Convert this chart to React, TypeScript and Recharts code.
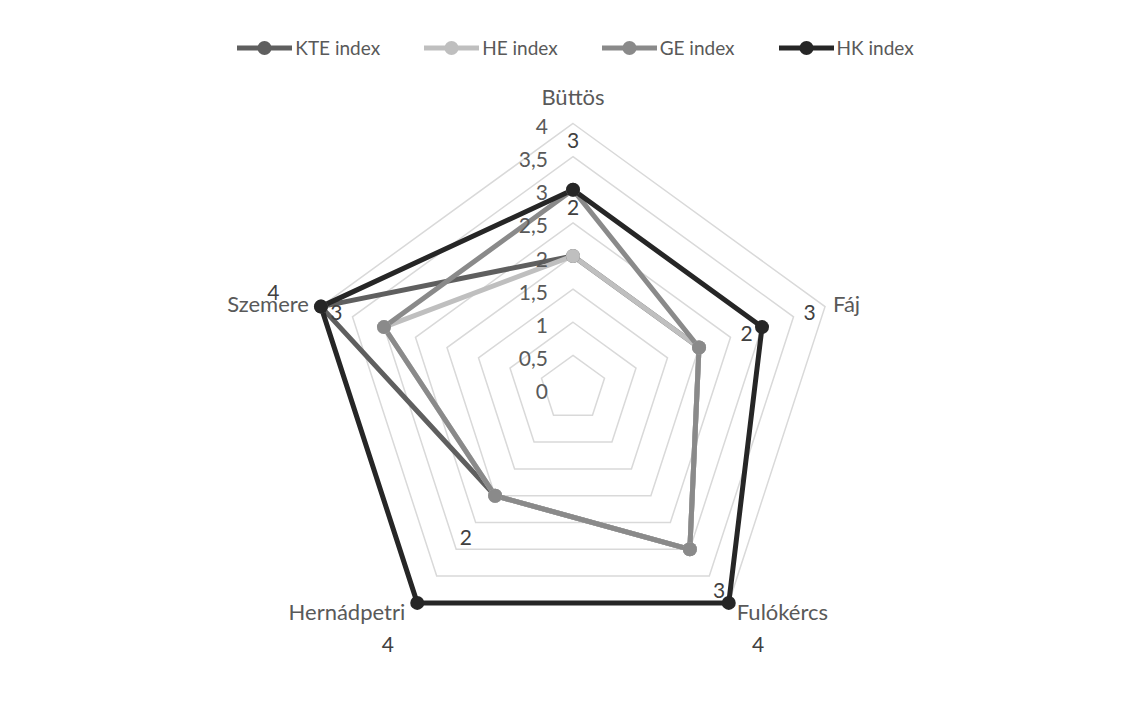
import React from "react";
import {
  RadarChart, Radar, PolarGrid, PolarAngleAxis, PolarRadiusAxis, Legend,
} from "recharts";

/* ── Data ── */
const CATEGORIES = ["Büttös", "Fáj", "Fulókércs", "Hernádpetri", "Szemere"];
const KTE = [2, 2, 3, 2, 4];
const HE = [2, 2, 3, 2, 3];
const GE = [3, 2, 3, 2, 3];
const HK = [3, 3, 4, 4, 4];
const RADIUS_TICKS = [0, 0.5, 1, 1.5, 2, 2.5, 3, 3.5, 4];

const data = CATEGORIES.map((name, i) => ({
  name, kte: KTE[i], he: HE[i], ge: GE[i], hk: HK[i],
}));

/* ── Layout / style ── */
const W = 1117;
const H = 692;
const CX = 565;
const CY = 380.5;
const R = 265;
const FONT = "Lato, 'Liberation Sans', sans-serif";
const TEXT = "#595959";
const LABEL = "#404040";

const SERIES = [
  { key: "kte", name: "KTE index", color: "#5f5f5f" },
  { key: "he", name: "HE index", color: "#bfbfbf" },
  { key: "ge", name: "GE index", color: "#8a8a8a" },
  { key: "hk", name: "HK index", color: "#262626" },
];

const RAD = Math.PI / 180;

/* category labels next to the outer vertices */
function AngleTick(props: any) {
  const angle = props.payload?.coordinate ?? 90;
  const cos = Math.cos(angle * RAD);
  const sin = Math.sin(angle * RAD);
  const vx = CX + R * cos;
  const vy = CY - R * sin;
  let anchor: "start" | "end" | "middle" = "middle";
  let dx = 0;
  let dy = 0;
  if (Math.abs(cos) < 1e-5) {
    dy = -19;
  } else {
    anchor = cos > 0 ? "start" : "end";
    dx = cos > 0 ? 8 : -12;
    dy = sin < 0 ? 17 : 5;
  }
  return (
    <text x={vx + dx} y={vy + dy} textAnchor={anchor} fill={TEXT}
      fontFamily={FONT} fontSize={22}>
      {props.payload?.value}
    </text>
  );
}

function RadiusTick(props: any) {
  const v = props.payload?.value;
  return (
    <text x={props.x - 25} y={props.y + 2} textAnchor="end" dominantBaseline="central"
      fill={TEXT} fontFamily={FONT} fontSize={21}>
      {String(v).replace(".", ",")}
    </text>
  );
}

/* data labels: pushed 50px outward from the point */
function DataLabel(props: any) {
  const x = props.x ?? props.viewBox?.x;
  const y = props.y ?? props.viewBox?.y;
  if (x == null || y == null) return null;
  const ddx = x - CX;
  const ddy = y - CY;
  const len = Math.hypot(ddx, ddy) || 1;
  return (
    <text x={x + (ddx / len) * 50} y={y + (ddy / len) * 50} textAnchor="middle"
      dominantBaseline="central" fill={LABEL} fontFamily={FONT} fontSize={21}>
      {props.value}
    </text>
  );
}

function LegendContent(props: any) {
  const payload = props.payload || [];
  const items = SERIES
    .map((s) => payload.find((p: any) => p.dataKey === s.key && p.type !== "none"))
    .filter(Boolean);
  return (
    <div style={{
      display: "flex", justifyContent: "center", gap: 44, paddingLeft: 18,
      fontFamily: FONT, fontSize: 19, color: TEXT,
    }}>
      {items.map((p: any) => (
        <div key={p.value} style={{ display: "flex", alignItems: "center" }}>
          <svg width={55} height={18}>
            <line x1={0} y1={9} x2={55} y2={9} stroke={p.color} strokeWidth={5} />
            <circle cx={27.5} cy={9} r={7} fill={p.color} />
          </svg>
          <span style={{ marginLeft: 3 }}>{p.value}</span>
        </div>
      ))}
    </div>
  );
}

export default function App() {
  return (
    <div style={{
      width: W, height: H, margin: "-1px 0 0 -1px",
      borderTop: "1px solid #d9d9d9", borderLeft: "1px solid #d9d9d9", background: "#fff",
    }}>
      <RadarChart width={W} height={H} data={data} cx={CX} cy={CY} outerRadius={R}
        margin={{ top: 0, right: 0, bottom: 0, left: 0 }}>
        <PolarGrid gridType="polygon" radialLines={false} stroke="#d9d9d9" strokeWidth={1.5} />
        <PolarAngleAxis dataKey="name" tick={<AngleTick />} tickLine={false} axisLine={false} />
        <PolarRadiusAxis angle={90} domain={[0, 4]} ticks={RADIUS_TICKS as any}
          tickCount={RADIUS_TICKS.length} axisLine={false} tick={<RadiusTick />} />
        {SERIES.map((s) => (
          <Radar key={s.key} dataKey={s.key} name={s.name} stroke={s.color} strokeWidth={5}
            fill="none" fillOpacity={0} strokeLinejoin="round"
            dot={{ r: 7, fill: s.color, stroke: s.color, strokeWidth: 0, fillOpacity: 1 }}
            isAnimationActive={false} />
        ))}
        {/* label-only layers so the values sit above every line */}
        {["he", "hk"].map((k) => (
          <Radar key={"lbl-" + k} dataKey={k} stroke="none" fill="none" fillOpacity={0}
            dot={false} legendType="none" label={<DataLabel />} isAnimationActive={false} />
        ))}
        <Legend verticalAlign="top" content={<LegendContent />}
          wrapperStyle={{ top: 28, left: 0, width: W }} />
      </RadarChart>
    </div>
  );
}
